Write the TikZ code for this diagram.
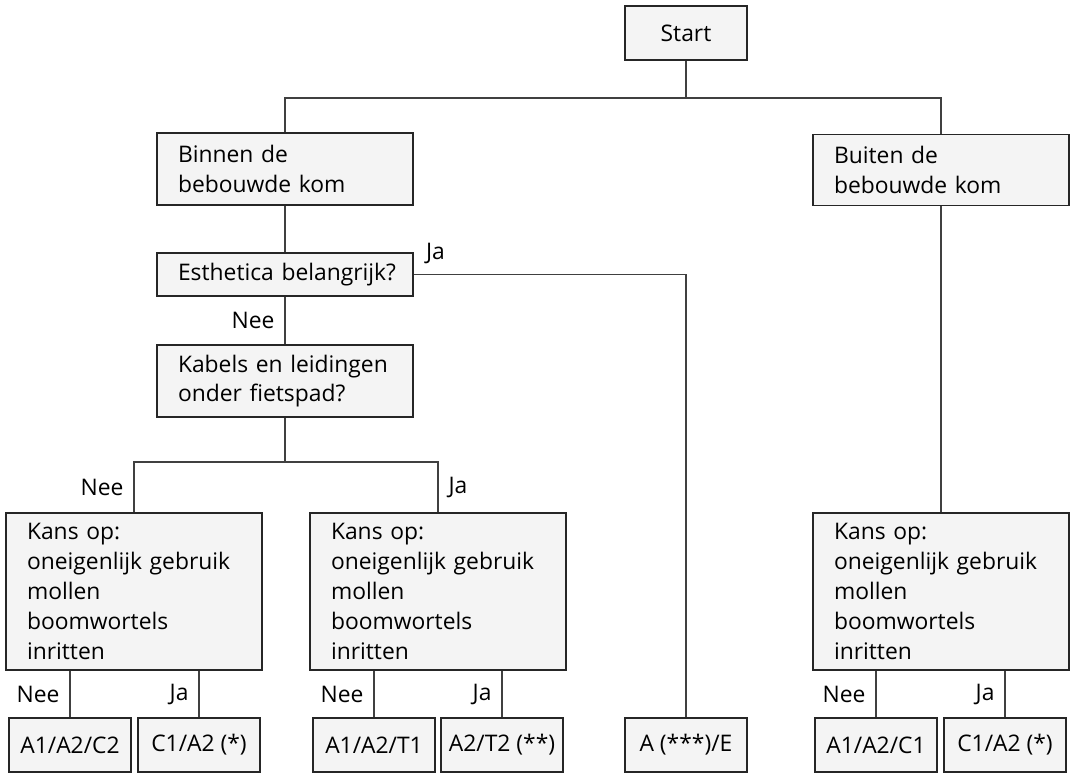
\documentclass[tikz,border=0pt]{standalone}
\usepackage{fontspec}
\setmainfont{Open Sans}
\usetikzlibrary{positioning}
\definecolor{vak}{HTML}{F4F4F4}
\definecolor{rand}{HTML}{262626}
\tikzset{
  blok/.style={draw=rand, line width=0.9pt, fill=vak, inner xsep=0.42cm, inner ysep=0pt, text width=4.28cm, align=left, font=\fontsize{13}{17}\selectfont},
  kort/.style={draw=rand, line width=0.9pt, fill=vak, inner sep=0pt, minimum width=2.44cm, minimum height=1.08cm, align=center, font=\fontsize{13}{17}\selectfont},
  lijn/.style={draw=black!75, line width=0.6pt},
  lbl/.style={font=\fontsize{13}{17}\selectfont, inner sep=0.2cm},
}

\begin{document}
\begin{tikzpicture}[x=0.02cm, y=-0.02cm]
  \useasboundingbox (0,0) rectangle (1072,774);
  % boxes
  \node[kort] (start) at (686,33) {Start};
  \node[blok, minimum height=1.44cm] (binnen) at (285,169) {Binnen de\\bebouwde kom};
  \node[blok, minimum height=1.42cm] (buiten) at (941,170) {Buiten de\\bebouwde kom};
  \node[blok, minimum height=0.86cm] (esth) at (285,274.5) {\mbox{Esthetica belangrijk?}};
  \node[blok, minimum height=1.44cm] (kabels) at (285,381) {Kabels en leidingen\\onder fietspad?};
  \node[blok, minimum height=3.14cm] (kans1) at (134,591.5) {Kans op:\\oneigenlijk gebruik\\mollen\\boomwortels\\inritten};
  \node[blok, minimum height=3.14cm] (kans2) at (438,591.5) {Kans op:\\oneigenlijk gebruik\\mollen\\boomwortels\\inritten};
  \node[blok, minimum height=3.14cm] (kans3) at (941,591.5) {Kans op:\\oneigenlijk gebruik\\mollen\\boomwortels\\inritten};
  \node[kort] (res1) at (70,745) {A1/A2/C2};
  \node[kort] (res2) at (199,745) {C1/A2 (*)};
  \node[kort] (res3) at (374,745) {A1/A2/T1};
  \node[kort] (res4) at (502,745) {A2/T2 (**)};
  \node[kort] (res5) at (686,745) {A (***)/E};
  \node[kort] (res6) at (876,745) {A1/A2/C1};
  \node[kort] (res7) at (1005,745) {C1/A2 (*)};
  % connectors
  \coordinate (split1) at (686,98);
  \coordinate (split2) at (285,462);
  \draw[lijn] (start) -- (split1);
  \draw[lijn] (binnen.north) |- (split1) -| (buiten.north);
  \draw[lijn] (binnen) -- (esth);
  \draw[lijn] (esth) -- node[lbl, left] {Nee} (kabels);
  \draw[lijn] (esth.east) -| node[lbl, pos=0.04, above] {Ja} (res5);
  \draw[lijn] (kabels) -- (split2);
  \draw[lijn] (split2) -| node[lbl, pos=0.75, left] {Nee} (kans1);
  \draw[lijn] (split2) -| node[lbl, pos=0.75, right] {Ja} (kans2);
  \draw[lijn] (buiten) -- (kans3);
  \draw[lijn] (kans1.south -| res1) -- node[lbl, left] {Nee} (res1);
  \draw[lijn] (kans1.south -| res2) -- node[lbl, left] {Ja} (res2);
  \draw[lijn] (kans2.south -| res3) -- node[lbl, left] {Nee} (res3);
  \draw[lijn] (kans2.south -| res4) -- node[lbl, left] {Ja} (res4);
  \draw[lijn] (kans3.south -| res6) -- node[lbl, left] {Nee} (res6);
  \draw[lijn] (kans3.south -| res7) -- node[lbl, left] {Ja} (res7);
\end{tikzpicture}
\end{document}
